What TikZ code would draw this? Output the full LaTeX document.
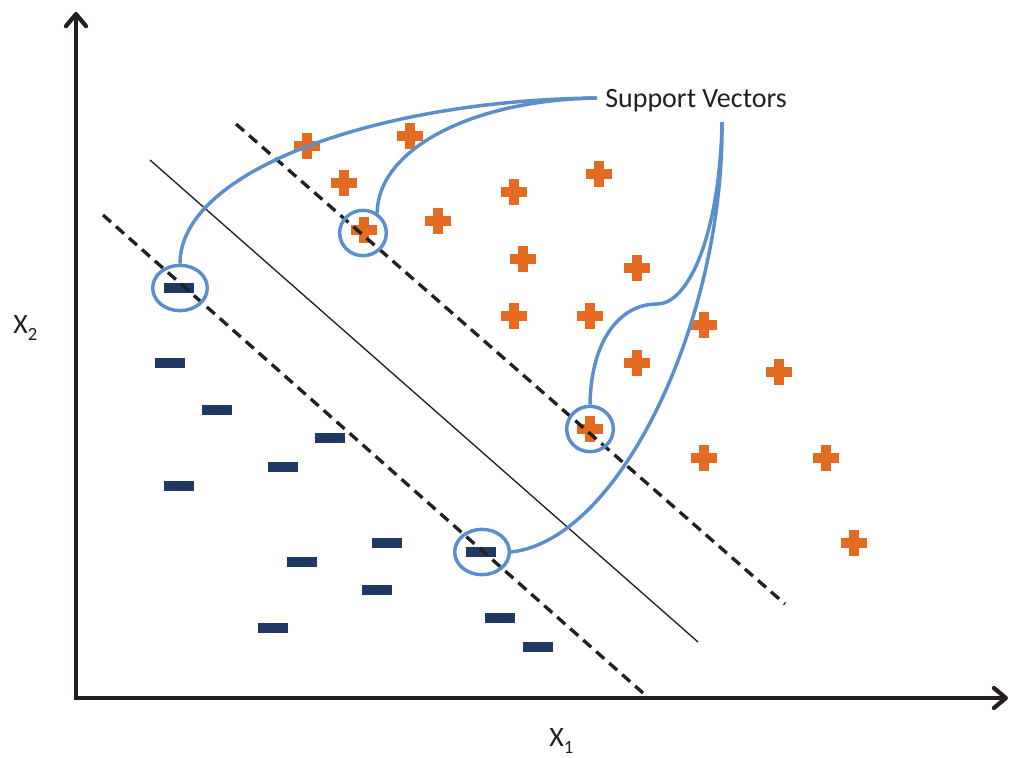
\documentclass[tikz,border=0pt]{standalone}
\usepackage{fontspec}
\setmainfont{Carlito}
\usetikzlibrary{arrows.meta,shapes.geometric}
\definecolor{svorange}{RGB}{228,108,34}
\definecolor{svnavy}{RGB}{31,56,100}
\definecolor{svblue}{RGB}{91,143,204}
\definecolor{inkgray}{RGB}{35,31,32}
\tikzset{
  plusmark/.style={minimum size=19.5pt, inner sep=0pt, outer sep=0pt,
    path picture={
      \fill[svorange] ([xshift=-3.7pt,yshift=-9.5pt]path picture bounding box.center) rectangle ([xshift=3.7pt,yshift=9.5pt]path picture bounding box.center);
      \fill[svorange] ([xshift=-9.5pt,yshift=-3.7pt]path picture bounding box.center) rectangle ([xshift=9.5pt,yshift=3.7pt]path picture bounding box.center);}},
  minusmark/.style={fill=svnavy, minimum width=22.5pt, minimum height=7pt, inner sep=0pt, outer sep=0pt},
  svcircle/.style={ellipse, draw=svblue, line width=2.6pt, inner sep=0pt},
  svline/.style={draw=svblue, line width=2.6pt},
  axisline/.style={draw=inkgray, line width=3.2pt, -{Straight Barb[length=9pt,width=15pt,line cap=round,line join=round]}},
  hyperline/.style={draw=inkgray, line width=1pt},
  marginline/.style={draw=inkgray, line width=2.5pt, dash pattern=on 8pt off 5pt},
  labeltext/.style={text=inkgray, font=\fontsize{21}{24}\selectfont, inner sep=0pt}
}
\newcommand{\subdigit}[1]{\raisebox{-5.5pt}{\fontsize{14}{15}\selectfont #1}}
\begin{document}
\begin{tikzpicture}[x=0.75pt,y=-0.75pt]
\useasboundingbox (0,0) rectangle (1012,757);
% axes
\coordinate (O) at (76,698);
\coordinate (ytip) at (76,12);
\coordinate (xtip) at (1008,698);
\draw[axisline] ([yshift=-1.6pt]O) -- (ytip);
\draw[axisline] ([xshift=-1.6pt]O) -- (xtip);
\node[labeltext, anchor=base west] (x2lab) at (13,333) {X\subdigit{2}};
\node[labeltext, anchor=base west] (x1lab) at (549,746) {X\subdigit{1}};
% data points
\foreach \px/\py [count=\i] in {307/146,410/136,344/183,514/192,599/174,438/221,364/230,523/259,637/268,514/316,590/316,704/325,637/363,779/372,590/429,704/458,826/458,854/543}
  \node[plusmark] (p\i) at (\px,\py) {};
\foreach \px/\py [count=\i] in {179/288,170/363,217/410,330/438,283/467,179/486,387/543,302/562,377/590,481/552,500/618,273/628,538/647}
  \node[minusmark] (m\i) at (\px,\py) {};
% separating lines
\coordinate (h1) at (150,160); \coordinate (h2) at (698,642);
\coordinate (u1) at (236,124); \coordinate (u2) at (785,604);
\coordinate (l1) at (103,215); \coordinate (l2) at (643,693);
\draw[hyperline] (h1) -- (h2);
\draw[marginline] (u1) -- (u2);
\draw[marginline] (l1) -- (l2);
% support vector circles
\node[svcircle, minimum width=41pt, minimum height=34pt] (c1) at (180,288) {};
\node[svcircle, minimum width=35pt, minimum height=34pt] (c2) at (363,233) {};
\node[svcircle, minimum width=35pt, minimum height=34pt] (c3) at (590,429) {};
\node[svcircle, minimum width=41pt, minimum height=34pt] (c4) at (482,552) {};
% label and callouts
\node[labeltext, anchor=base west] (sv) at (605,107) {Support Vectors};
\coordinate (svL) at (597,98);
\coordinate (svR) at (722,122);
\coordinate (kink) at (657,304);
\draw[svline] (svL) .. controls (380,100) and (180,170) .. (c1.north);
\draw[svline] (svL) .. controls (470,100) and (378,150) .. (c2.55);
\draw[svline] (svR) .. controls (720,230) and (690,304) .. (kink) .. controls (620,304) and (591,340) .. (c3.north);
\draw[svline] (svR) .. controls (724,320) and (620,540) .. (c4.east);
\end{tikzpicture}
\end{document}
